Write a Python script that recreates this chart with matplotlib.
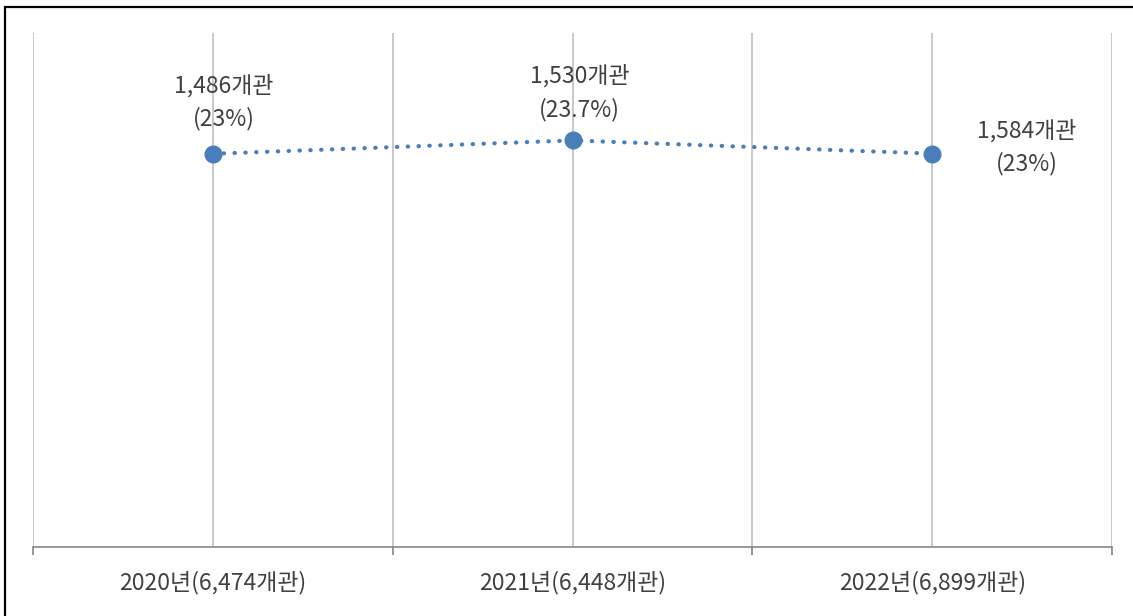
import matplotlib
matplotlib.use("Agg")
import matplotlib.pyplot as plt
from matplotlib.patches import Rectangle

plt.rcParams['font.family'] = ['Noto Sans CJK KR', 'DejaVu Sans']

categories = ["2020년(6,474개관)", "2021년(6,448개관)", "2022년(6,899개관)"]
counts = ["1,486개관", "1,530개관", "1,584개관"]
pct_labels = ["(23%)", "(23.7%)", "(23%)"]
pct_values = [22.95, 23.73, 22.96]

W, H = 1133, 616
fig = plt.figure(figsize=(W / 100, H / 100), dpi=100)
ax = fig.add_axes([33 / W, 1 - 547 / H, (1112 - 33) / W, (547 - 33) / H])

x = list(range(len(categories)))
ax.set_xlim(-0.5, len(categories) - 0.5)
ax.set_ylim(0, 30)

# vertical gridlines at category centers and boundaries
grid_pos = [i * 0.5 - 0.5 for i in range(2 * len(categories) + 1)]
for g in grid_pos:
    ax.axvline(g, color='#BFBFBF', lw=1.2, zorder=1)

blue = '#4A7EBB'
line, = ax.plot(x, pct_values, color=blue, lw=3.0, zorder=3)
line.set_dashes((0.1, 2.5))
line.set_dash_capstyle('round')
ax.plot(x, pct_values, 'o', color=blue, ms=12, zorder=4, mec=blue)

for sp in ['left', 'right', 'top']:
    ax.spines[sp].set_visible(False)
ax.spines['bottom'].set_color('#868686')
ax.spines['bottom'].set_linewidth(1.2)
ax.set_yticks([])

ax.set_xticks([-0.5, 0.5, 1.5, 2.5], minor=False)
ax.set_xticklabels([])
ax.tick_params(axis='x', which='major', length=6, width=1.2, color='#868686', direction='out')
ax.set_xticks(x, minor=True)
ax.set_xticklabels(categories, minor=True)
ax.tick_params(axis='x', which='minor', length=0, pad=17, labelsize=16.5, labelcolor='#404040')

text_col = '#404040'
offsets = [(11, 68, 35), (7, 65, 31), (95, 23, -10)]
for i in x:
    dx, d1, d2 = offsets[i]
    ax.annotate(counts[i], xy=(i, pct_values[i]), xytext=(dx, d1), textcoords='offset pixels',
                ha='center', va='center', fontsize=16.5, color=text_col, zorder=5)
    ax.annotate(pct_labels[i], xy=(i, pct_values[i]), xytext=(dx, d2), textcoords='offset pixels',
                ha='center', va='center', fontsize=16.5, color=text_col, zorder=5)

fig.add_artist(Rectangle((5 / W, -0.2), 2, 1 - 7 / H + 0.2, transform=fig.transFigure,
                         fill=False, ec='black', lw=1.6))

fig.savefig('out.png', dpi=100)
